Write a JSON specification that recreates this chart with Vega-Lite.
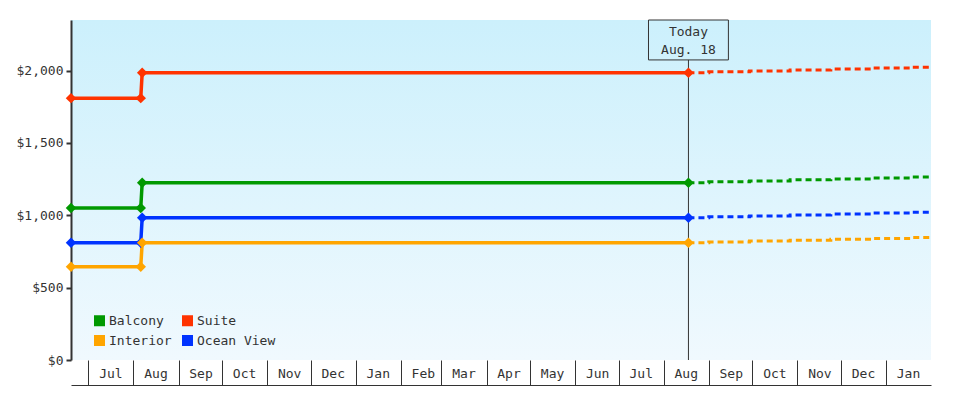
{
  "$schema": "https://vega.github.io/schema/vega-lite/v6.json",
  "autosize": "none",
  "width": 860,
  "height": 340,
  "padding": {"left": 71, "top": 20, "right": 49, "bottom": 40},
  "background": "white",
  "config": {
    "font": "DejaVu Sans Mono",
    "view": {
      "stroke": null,
      "fill": {
        "gradient": "linear",
        "x1": 0, "y1": 0, "x2": 0, "y2": 1,
        "stops": [
          {"offset": 0, "color": "#ccf0fc"},
          {"offset": 1, "color": "#f0f9fe"}
        ]
      }
    },
    "axis": {
      "labelFont": "DejaVu Sans Mono",
      "labelFontSize": 13,
      "labelColor": "#333333",
      "grid": false,
      "title": null
    }
  },
  "datasets": {
    "prices": [
      {"cabin": "Suite", "date": "2017-06-19T00:00", "price": 1810, "kind": "actual"},
      {"cabin": "Suite", "date": "2017-08-06T00:00", "price": 1810, "kind": "actual"},
      {"cabin": "Suite", "date": "2017-08-07T00:00", "price": 1985, "kind": "actual"},
      {"cabin": "Suite", "date": "2018-08-18T00:00", "price": 1985, "kind": "actual"},
      {"cabin": "Balcony", "date": "2017-06-19T00:00", "price": 1050, "kind": "actual"},
      {"cabin": "Balcony", "date": "2017-08-06T00:00", "price": 1050, "kind": "actual"},
      {"cabin": "Balcony", "date": "2017-08-07T00:00", "price": 1225, "kind": "actual"},
      {"cabin": "Balcony", "date": "2018-08-18T00:00", "price": 1225, "kind": "actual"},
      {"cabin": "Ocean View", "date": "2017-06-19T00:00", "price": 810, "kind": "actual"},
      {"cabin": "Ocean View", "date": "2017-08-06T00:00", "price": 810, "kind": "actual"},
      {"cabin": "Ocean View", "date": "2017-08-07T00:00", "price": 983, "kind": "actual"},
      {"cabin": "Ocean View", "date": "2018-08-18T00:00", "price": 983, "kind": "actual"},
      {"cabin": "Interior", "date": "2017-06-19T00:00", "price": 645, "kind": "actual"},
      {"cabin": "Interior", "date": "2017-08-06T00:00", "price": 645, "kind": "actual"},
      {"cabin": "Interior", "date": "2017-08-07T00:00", "price": 810, "kind": "actual"},
      {"cabin": "Interior", "date": "2018-08-18T00:00", "price": 810, "kind": "actual"},

      {"cabin": "Suite", "date": "2018-08-18T00:00", "price": 1985, "kind": "forecast"},
      {"cabin": "Suite", "date": "2018-09-01T00:00", "price": 1992, "kind": "forecast"},
      {"cabin": "Suite", "date": "2018-09-29T00:00", "price": 1998, "kind": "forecast"},
      {"cabin": "Suite", "date": "2018-10-27T00:00", "price": 2005, "kind": "forecast"},
      {"cabin": "Suite", "date": "2018-11-24T00:00", "price": 2011, "kind": "forecast"},
      {"cabin": "Suite", "date": "2018-12-22T00:00", "price": 2018, "kind": "forecast"},
      {"cabin": "Suite", "date": "2019-01-19T00:00", "price": 2024, "kind": "forecast"},
      {"cabin": "Suite", "date": "2019-01-31T23:00", "price": 2024, "kind": "forecast"},
      {"cabin": "Balcony", "date": "2018-08-18T00:00", "price": 1225, "kind": "forecast"},
      {"cabin": "Balcony", "date": "2018-09-01T00:00", "price": 1232, "kind": "forecast"},
      {"cabin": "Balcony", "date": "2018-09-29T00:00", "price": 1238, "kind": "forecast"},
      {"cabin": "Balcony", "date": "2018-10-27T00:00", "price": 1245, "kind": "forecast"},
      {"cabin": "Balcony", "date": "2018-11-24T00:00", "price": 1251, "kind": "forecast"},
      {"cabin": "Balcony", "date": "2018-12-22T00:00", "price": 1258, "kind": "forecast"},
      {"cabin": "Balcony", "date": "2019-01-19T00:00", "price": 1264, "kind": "forecast"},
      {"cabin": "Balcony", "date": "2019-01-31T23:00", "price": 1264, "kind": "forecast"},
      {"cabin": "Ocean View", "date": "2018-08-18T00:00", "price": 983, "kind": "forecast"},
      {"cabin": "Ocean View", "date": "2018-09-01T00:00", "price": 990, "kind": "forecast"},
      {"cabin": "Ocean View", "date": "2018-09-29T00:00", "price": 996, "kind": "forecast"},
      {"cabin": "Ocean View", "date": "2018-10-27T00:00", "price": 1003, "kind": "forecast"},
      {"cabin": "Ocean View", "date": "2018-11-24T00:00", "price": 1009, "kind": "forecast"},
      {"cabin": "Ocean View", "date": "2018-12-22T00:00", "price": 1016, "kind": "forecast"},
      {"cabin": "Ocean View", "date": "2019-01-19T00:00", "price": 1022, "kind": "forecast"},
      {"cabin": "Ocean View", "date": "2019-01-31T23:00", "price": 1022, "kind": "forecast"},
      {"cabin": "Interior", "date": "2018-08-18T00:00", "price": 810, "kind": "forecast"},
      {"cabin": "Interior", "date": "2018-09-01T00:00", "price": 816, "kind": "forecast"},
      {"cabin": "Interior", "date": "2018-09-29T00:00", "price": 822, "kind": "forecast"},
      {"cabin": "Interior", "date": "2018-10-27T00:00", "price": 828, "kind": "forecast"},
      {"cabin": "Interior", "date": "2018-11-24T00:00", "price": 834, "kind": "forecast"},
      {"cabin": "Interior", "date": "2018-12-22T00:00", "price": 840, "kind": "forecast"},
      {"cabin": "Interior", "date": "2019-01-19T00:00", "price": 846, "kind": "forecast"},
      {"cabin": "Interior", "date": "2019-01-31T23:00", "price": 846, "kind": "forecast"}
    ],
    "today": [
      {"date": "2018-08-18T00:00", "from": "2018-07-21T12:00", "to": "2018-09-14T12:00", "low": 0, "boxBottom": 2074, "boxTop": 2350, "labelY": 2267, "label": ["Today", "Aug. 18"]}
    ]
  },
  "encoding": {
    "x": {
      "field": "date",
      "type": "temporal",
      "scale": {"domain": ["2017-06-19T00:00", "2019-01-31T23:00"]},
      "axis": {
        "format": "%b",
        "tickCount": {"interval": "month", "step": 1},
        "offset": 25,
        "domainColor": "#333333",
        "domainWidth": 1,
        "tickColor": "#333333",
        "tickSize": -25,
        "labelOffset": 22,
        "labelPadding": 13,
        "labelBaseline": "middle",
        "labelAlign": "center",
        "labelOverlap": false,
        "labelFlush": false,
        "labelBound": false
      }
    },
    "y": {
      "field": "price",
      "type": "quantitative",
      "scale": {"domain": [0, 2350], "nice": false, "zero": true},
      "axis": {
        "values": [0, 500, 1000, 1500, 2000],
        "format": "$,.0f",
        "domainColor": "#333333",
        "domainWidth": 2,
        "tickColor": "#333333",
        "tickWidth": 2,
        "tickSize": 5,
        "labelPadding": 3
      }
    },
    "color": {
      "field": "cabin",
      "type": "nominal",
      "scale": {
        "domain": ["Balcony", "Interior", "Suite", "Ocean View"],
        "range": ["#009900", "#ffa500", "#ff3300", "#0033ff"]
      },
      "legend": {
        "title": null,
        "orient": "none",
        "legendX": 22,
        "legendY": 294,
        "columns": 2,
        "columnPadding": 9,
        "rowPadding": 6,
        "symbolType": "square",
        "symbolSize": 121,
        "symbolStrokeWidth": 0,
        "symbolOffset": 0,
        "labelOffset": 3,
        "labelFont": "DejaVu Sans Mono",
        "labelFontSize": 13,
        "labelColor": "#333333"
      }
    }
  },
  "layer": [
    {
      "data": {"name": "today"},
      "mark": {"type": "rule", "color": "#333333", "strokeWidth": 1},
      "encoding": {"x": null, "color": null, "y": {"datum": 0}}
    },
    {
      "data": {"name": "today"},
      "mark": {"type": "rule", "color": "#333333", "strokeWidth": 1},
      "encoding": {
        "color": null,
        "x": {"field": "date", "type": "temporal"},
        "y": {"field": "low", "type": "quantitative"},
        "y2": {"field": "boxBottom"}
      }
    },
    {
      "data": {"name": "today"},
      "mark": {"type": "rect", "fill": null, "stroke": "#333333", "strokeWidth": 1},
      "encoding": {
        "color": null,
        "x": {"field": "from", "type": "temporal"},
        "x2": {"field": "to"},
        "y": {"field": "boxBottom", "type": "quantitative"},
        "y2": {"field": "boxTop"}
      }
    },
    {
      "data": {"name": "today"},
      "mark": {"type": "text", "font": "DejaVu Sans Mono", "fontSize": 13, "color": "#333333", "align": "center", "baseline": "middle", "lineHeight": 18},
      "encoding": {
        "color": null,
        "x": {"field": "date", "type": "temporal"},
        "y": {"field": "labelY", "type": "quantitative"},
        "text": {"field": "label"}
      }
    },
    {
      "data": {"name": "prices"},
      "transform": [{"filter": "datum.kind == 'forecast'"}],
      "mark": {"type": "line", "interpolate": "step-after", "strokeWidth": 3, "strokeDash": [6, 4]}
    },
    {
      "data": {"name": "prices"},
      "transform": [{"filter": "datum.kind == 'actual'"}],
      "mark": {"type": "line", "strokeWidth": 3.5}
    },
    {
      "data": {"name": "prices"},
      "transform": [{"filter": "datum.kind == 'actual'"}],
      "mark": {"type": "point", "shape": "diamond", "filled": true, "size": 110, "opacity": 1}
    }
  ]
}
